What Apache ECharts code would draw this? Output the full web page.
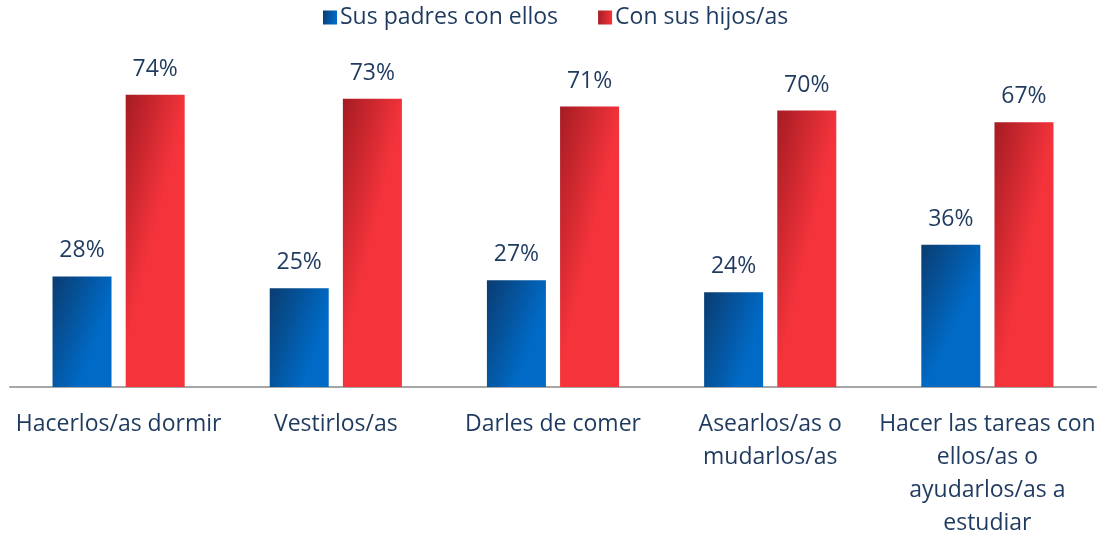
<!DOCTYPE html>
<html>
<head>
<meta charset="utf-8">
<script src="https://cdn.jsdelivr.net/npm/echarts@6/dist/echarts.min.js"></script>
<style>html,body{margin:0;padding:0;background:#fff;}#c{width:1105px;height:533px;}</style>
</head>
<body>
<div id="c"></div>
<script>
const categories = ['Hacerlos/as dormir', 'Vestirlos/as', 'Darles de comer', 'Asearlos/as o\nmudarlos/as', 'Hacer las tareas con\nellos/as o\nayudarlos/as a\nestudiar'];
const seriesNames = ['Sus padres con ellos', 'Con sus hijos/as'];
const padres = [28, 25, 27, 24, 36];
const hijos = [74, 73, 71, 70, 67];

const txt = '#1f3a5f';
const font = 'Open Sans';
const chart = echarts.init(document.getElementById('c'));
const blue = new echarts.graphic.LinearGradient(0, 0, 1, 0.2, [
  {offset: 0, color: '#0a3c70'}, {offset: 1, color: '#006ac6'}]);
const red = new echarts.graphic.LinearGradient(0, 0, 1, 0.05, [
  {offset: 0, color: '#a51c23'}, {offset: 1, color: '#f4333b'}]);
const lbl = {show: true, position: 'top', distance: 14, formatter: '{c}%', color: txt, fontSize: 23, fontFamily: font};
chart.setOption({
  animation: false,
  textStyle: {fontFamily: font},
  legend: {
    top: 1, left: 318, itemWidth: 14, itemHeight: 14, itemGap: 40,
    icon: 'rect',
    textStyle: {fontSize: 23, color: txt, fontFamily: font, padding: [0, 0, 0, -2]},
    data: seriesNames
  },
  grid: {left: 10, right: 9, top: 71, bottom: 146, containLabel: false, outerBoundsMode: 'none'},
  xAxis: {
    type: 'category', data: categories,
    axisLine: {lineStyle: {color: '#a6a6a6', width: 2}},
    axisTick: {show: false},
    axisLabel: {color: txt, fontSize: 23, fontFamily: font, margin: 21, lineHeight: 33, interval: 0}
  },
  yAxis: {type: 'value', min: 0, max: 80, show: false, splitLine: {show: false}},
  series: [
    {name: seriesNames[0], type: 'bar', data: padres, barWidth: 59, barGap: '24%', itemStyle: {color: blue}, label: lbl},
    {name: seriesNames[1], type: 'bar', data: hijos, barWidth: 59, itemStyle: {color: red}, label: lbl}
  ]
});
</script>
</body>
</html>
